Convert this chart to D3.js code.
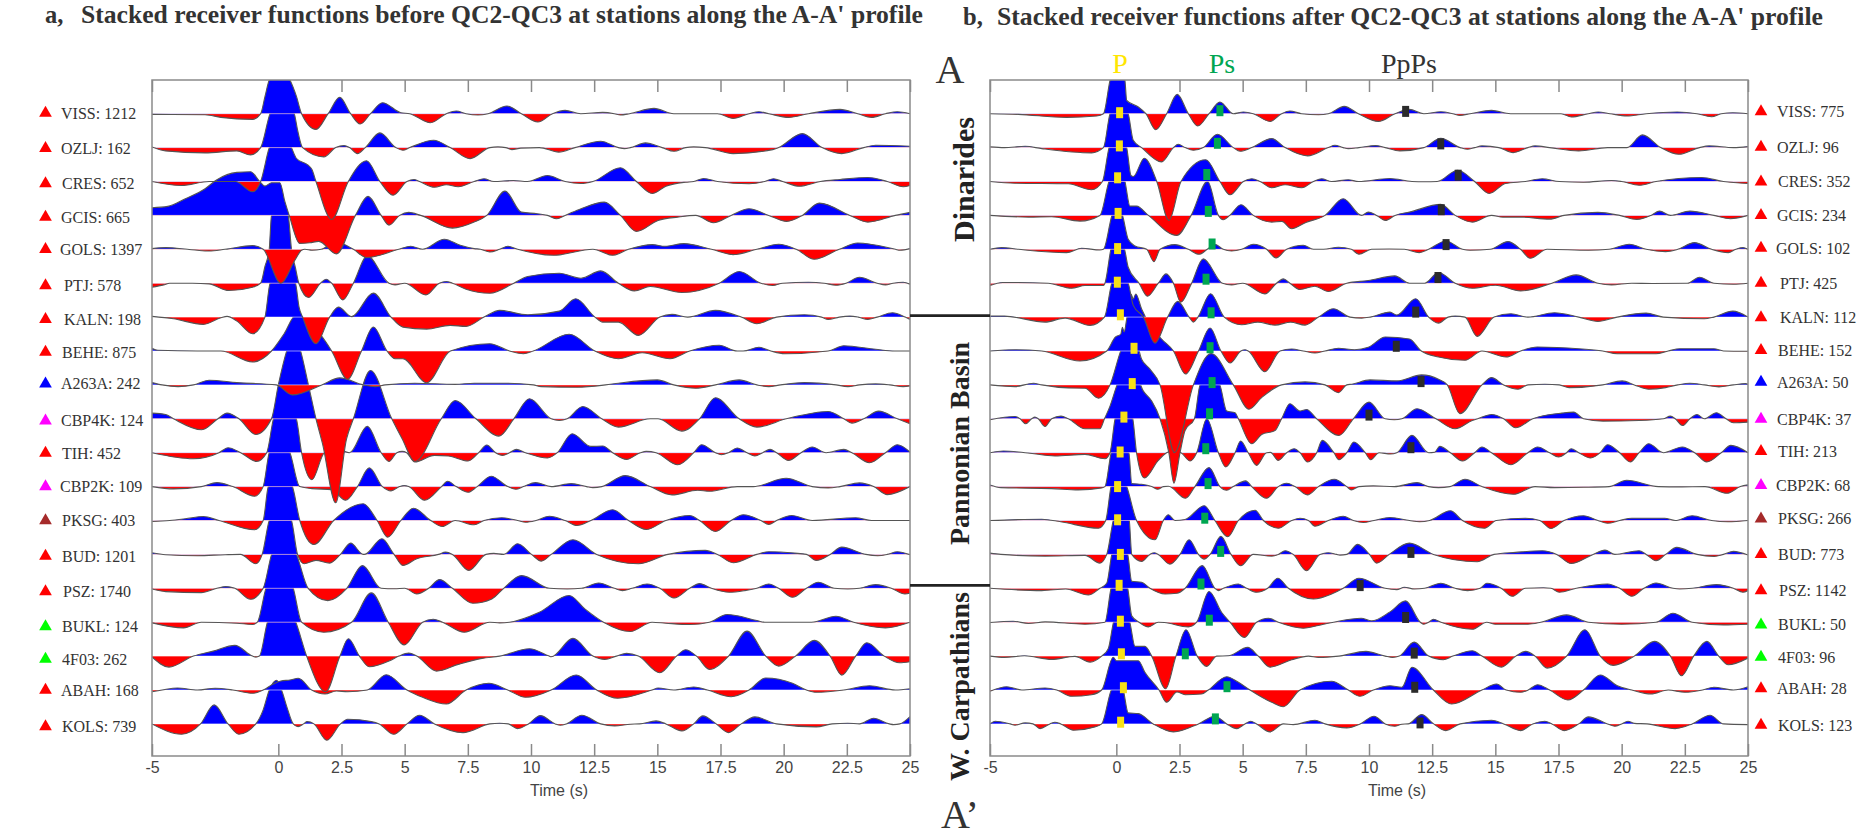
<!DOCTYPE html>
<html>
<head>
<meta charset="utf-8">
<style>
html, body { margin: 0; padding: 0; background: #fff; }
svg { display: block; }
text { fill: #333; }
.serif { font-family: "Liberation Serif", serif; }
.axis text { font-family: "Liberation Sans", sans-serif; font-size: 16px; fill: #444; }
.axis line, .axis path { stroke: #8a8a8a; stroke-width: 1.5px; }
</style>
</head>
<body>
<svg id="viz"></svg>
<script src="https://d3js.org/d3.v7.min.js"></script>
<script>
var width = 1858, height = 832;

var stations = ["VISS", "OZLJ", "CRES", "GCIS", "GOLS", "PTJ", "KALN", "BEHE", "A263A", "CBP4K", "TIH", "CBP2K", "PKSG", "BUD", "PSZ", "BUKL", "4F03", "ABAH", "KOLS"];
var countsBefore = [1212, 162, 652, 665, 1397, 578, 198, 875, 242, 124, 452, 109, 403, 1201, 1740, 124, 262, 168, 739];
var countsAfter = [775, 96, 352, 234, 102, 425, 112, 152, 50, 37, 213, 68, 266, 773, 1142, 50, 96, 28, 123];
var networkColor = ["red", "red", "red", "red", "red", "red", "red", "red", "#0000ff", "#ff00ff", "red", "#ff00ff", "#a52a2a", "red", "red", "#00ff00", "#00ff00", "red", "red"];
var timeTicks = [-5, 0, 2.5, 5, 7.5, 10, 12.5, 15, 17.5, 20, 22.5, 25];

// label nudges, px
var labelDx = [0, 0, 1, 0, -1, 3, 3, 1, 0, 0, 1, -1, 1, 1, 2, 1, 1, 0, 1];
var labelDyA = [-.7, .7, 2, 1.7, 0, 2.4, 2.3, 1, -1, 2, .4, 0, 0, 1.7, 3.3, 4.3, 3, 0, 2.7];
var labelDyB = [-2, -.6, .3, 0, -1.3, 0, .6, -.7, -2.7, .3, -1.3, -1.3, -1.7, 0, 2.3, 2.6, 1, -1.3, 1.3];

// receiver functions, flat lists of time (s), amplitude
var rfBefore = [
[-5,-.07,-2.9,-.1,-2.27,-.37,-1.02,-.57,-.7,0,-.53,1.7,-.36,3.37,.05,4.6,.46,3.37,.72,1.7,.92,0,1.49,-1.57,1.97,0,2.43,1.63,2.86,0,3.24,-1.03,3.65,0,4.12,1.1,4.85,.1,5.2,0,6.02,-.9,6.65,0,7.04,.27,7.43,0,7.9,-.13,8.3,0,9.05,.77,9.62,0,10.27,-.83,10.85,0,11.35,.33,11.97,0,12.84,.13,13.3,0,13.54,-.13,13.9,0,14.87,.53,15.65,0,17.38,0,18,-.47,18.63,0,19.02,.2,19.41,0,20.2,-.37,20.98,0,22.23,.43,22.93,0,23.48,-.37,24.03,0,24.5,.2,25,0],
[-5,.07,-4.46,-.33,-2.9,-.53,-1.64,-.33,-1.1,-.73,-.7,0,-.33,3.4,.13,5,.63,3.4,.76,1.77,.96,0,1.8,-.93,2.27,0,2.6,.2,2.82,0,3.13,-.6,3.44,0,4.02,1.47,4.65,0,4.93,-.27,5.2,0,6.15,.73,6.8,0,7.59,-1.1,8.37,0,8.69,.07,9,0,9.24,-.2,9.6,-.05,10.33,0,11.1,-.45,11.74,0,12.76,.63,13.46,0,13.7,-.1,13.93,0,14.53,.47,15.19,0,15.66,-.37,16.12,0,16.44,.07,16.9,0,18,-.6,19.57,-.2,19.8,0,20.74,1.4,21.52,0,22.3,-.6,23.17,0,23.64,.23,25,.13],
[-5,0,-3.83,-.4,-2.74,0,-1.7,0,-1.02,-1.03,-.7,0,-.36,3.37,.1,5.2,.52,3.37,.72,2.3,1.18,1.63,1.33,1.2,1.49,0,2.11,-3.8,2.77,0,3.49,2.07,4.02,0,4.54,-1.37,5.09,0,5.37,.2,5.59,0,6.18,-.57,6.65,-.33,7.12,-.53,7.75,0,8.14,.27,8.53,0,9.3,.1,9.86,0,10.65,.6,11.35,0,11.98,-.2,12.45,0,13.54,1.37,14.17,0,14.8,-1.2,15.34,-.47,16.12,-.07,16.44,0,16.83,.3,17.38,0,18.63,-.23,19.25,0,19.6,.27,19.96,0,20.62,-.47,21.45,0,22.23,.2,23.33,.4,24.1,0,24.73,-.53,25,-.4],
[-5,.77,-4.38,.9,-3.68,1.67,-2.9,2.67,-2.43,3.57,-1.64,4.3,-1.1,4.37,-.73,3.37,-.53,2.93,-.27,3.27,.06,3.27,.26,1.37,.43,0,.85,-2.8,1.25,-2.73,1.6,-2.6,2.3,-3.85,3.05,0,3.55,1.9,4.07,0,4.38,-.97,4.8,0,5.16,.3,5.63,0,6.89,-1.27,7.75,-.67,8.25,0,8.97,2.43,9.62,.33,10.25,.17,10.65,0,11.02,-.33,11.35,0,11.98,.67,12.9,1.33,13.54,0,14.17,-1.6,15.03,-.5,15.81,-.17,16.52,0,17.22,-.73,17.92,0,18.63,.67,19.41,0,20.12,-.6,20.74,0,21.41,1.23,22.62,0,23.33,-.67,24.42,0,25,.3],
[-5,.07,-4.46,.17,-3.6,0,-3.2,-.1,-2.74,-.17,-2.11,0,-1.02,.37,-.6,0,.1,-3.4,.66,-1.07,.92,-.1,1.05,0,1.33,-.1,1.7,0,2.27,.73,2.97,0,3.49,-.83,4.77,0,5.24,.3,5.71,0,6.57,1,7.2,.4,7.75,.07,8,0,8.37,-.27,8.76,0,9.08,.3,9.47,0,10.9,-.6,12.45,0,13.23,-.6,13.86,0,14.8,.47,15.3,.3,16.05,.57,17.14,0,18,-.53,18.94,0,19.8,.5,20.5,0,21.21,-1,22.2,0,22.93,.63,24.42,0,24.6,-.1,25,.07],
[-5,-.4,-4.54,-.17,-4.3,0,-3.4,0,-2.74,-.07,-1.96,-.73,-1.02,-.4,-.7,0,-.53,1.67,-.36,3.4,-.27,6.8,.06,8.2,.39,6.8,.52,3.4,.68,1.5,.81,0,1.2,-1.43,1.67,0,1.89,.4,2.11,0,2.55,-1.67,2.97,0,3.52,2.73,4.38,0,4.62,-.17,5,0,5.84,-1.17,6.37,0,6.65,.17,6.89,0,7.43,-.6,8.37,-1,9.32,0,9.87,.67,11.12,1,11.98,.5,12.76,1.23,13.46,0,14.09,-.77,14.72,-.33,15.97,-.93,17.45,0,18.24,1.17,19.1,0,19.57,-.23,19.96,0,20.98,.1,21.6,0,22.07,-.2,22.47,0,23,.6,23.7,0,24.03,-.17,24.33,0,24.73,.1,25,-.1],
[-5,.07,-4.15,-.17,-2.97,-.73,-2.27,-.07,-2.03,.07,-1.64,-.4,-1.02,-1.67,-.53,0,-.33,3.37,.15,5,.68,3.37,.82,1,.96,0,1.49,-2.67,2.03,0,2.38,1,2.9,.05,3.76,2.4,4.46,0,4.93,-1,5.87,-1.2,6.8,-.83,7.43,-.93,8.14,0,8.76,.67,9.87,.23,11.12,.6,11.77,1.83,12.53,0,12.84,-.5,13.46,-.5,14.25,-1.83,15.1,0,15.58,.27,16.2,0,17.3,.67,18.32,0,18.94,-.67,19.72,0,20.82,.23,21.5,0,21.76,-.23,22.2,0,22.62,.1,22.95,0,23.33,-.23,23.7,0,24.31,.43,24.81,0,25,-.23],
[-5,.27,-4.77,.07,-3.2,0,-2.27,0,-1.02,-1.1,-.27,0,.23,1.73,.7,3.6,1.64,1.73,2.11,0,2.74,-2.83,3.29,0,3.76,2.4,4.3,0,4.62,-.77,4.93,-.77,5.87,-3.17,6.81,0,8.37,.73,9.15,0,9.7,-.27,10.09,0,11.51,1.67,12.53,0,13.46,-.77,14.4,-.17,15.5,-.77,16.28,0,17.45,.57,18.16,0,18.4,0,19.02,.37,19.49,0,20.04,-.27,21.76,0,22.38,.53,23.64,.17,24.4,0,25,0],
[-5,.23,-4.6,0,-3.97,-.17,-3.36,0,-2.74,.47,-1.64,.23,-.08,0,.55,-1,1.72,0,2.43,.7,3.36,0,3.83,-.17,4.23,0,5.4,.17,7,.05,7.75,.17,9,.17,10.09,0,10.4,-.17,11.82,-.23,12.95,0,13.46,.17,15,.5,15.65,0,16.52,-.33,17.3,0,18.24,.5,18.94,0,19.41,-.17,19.88,0,20.82,.23,22.07,0,22.54,-.17,23,0,23.64,.1,24.2,0,24.73,-.17,25,-.1],
[-5,.57,-4.46,.43,-4.15,0,-3.03,-1.1,-2.39,0,-2.03,.57,-1.56,0,-.89,-1.57,-.27,0,0,3.4,.33,6.8,.6,8.6,.88,6.8,1.19,3.4,1.49,0,1.75,-2.5,2.27,-8.4,2.7,-2,2.97,0,3.65,4.83,4.49,0,4.9,-2,5.4,-4.27,6.45,0,7,1.83,7.82,0,8.73,-1.73,9.32,0,9.94,2,10.8,0,11.12,-.17,11.43,0,12.05,1.23,12.8,0,13.46,-.83,14.72,0,15.03,0,15.97,-1.23,16.67,0,17.3,2.1,18.24,0,18.94,-.83,20.1,0,20.66,.33,21.76,.73,22.38,0,22.7,-.43,23.17,0,23.76,.77,24.5,0,25,-.5],
[-5,0,-3.36,-.6,-2.35,0,-1.99,.5,-1.49,0,-.86,-.87,-.46,0,-.2,3.33,.25,5.6,.72,3.33,.92,0,1.33,-2.7,1.83,0,2.4,.3,2.82,0,3.52,2.63,4.07,0,4.38,-.87,4.69,0,4.9,.13,5.08,0,5.4,-.93,6.18,-.27,6.73,-.33,7.51,-.83,7.93,0,8.25,.77,8.6,0,8.87,-.27,9.15,0,9.42,.33,9.78,0,10.65,-.53,11.04,0,11.63,1.9,12.37,.63,12.84,.67,13.23,0,13.78,-.67,14.33,0,14.56,.13,14.95,0,15.81,-1.2,16.44,0,16.75,.8,17.3,0,17.53,-.2,17.82,0,18.16,.47,18.55,0,18.86,-.33,19.17,0,19.46,.33,19.72,0,20.19,-.77,20.69,0,21.13,.57,21.68,0,22.38,.33,22.7,0,23.4,-1,24.03,0,24.5,.8,25,.07],
[-5,0,-4.15,-.23,-3.05,0,-2.43,.4,-1.8,0,-.94,-.97,-.6,0,-.36,3.4,.05,5,.46,3.4,.85,0,1.33,-.2,2.11,-.3,2.66,-1.37,3.13,0,3.6,1.87,4.12,0,4.46,-.43,4.8,0,4.98,.1,5.16,0,5.79,-1.37,6.46,0,6.7,.53,7.04,0,7.51,-.57,7.87,0,8.42,1.03,9.08,0,9.4,-.27,9.7,0,10.18,.4,10.8,0,11.59,.3,12.2,0,12.45,-.1,12.8,0,13.73,1.1,14.72,0,15.58,-.83,16.6,-.37,17.06,-.47,18.16,0,18.8,0,20.1,.83,21.13,0,21.76,-.13,22.23,0,23,.37,23.56,0,24.1,-.8,25,0],
[-5,-.1,-4.3,0,-3.68,.17,-2.97,.4,-2.35,0,-.94,-.93,-.6,0,-.4,3.37,.08,5,.56,3.37,.85,0,1.41,-2.4,2.19,0,3.36,1.67,3.91,0,4.33,-1.67,4.85,0,5.35,1.23,6.03,0,6.49,-.6,7,0,7.75,-.43,8.14,0,8.84,.27,9.47,0,9.79,-.17,10.2,0,10.73,.43,11.35,0,11.82,-.5,12.37,0,13.23,1.07,13.86,0,14.56,-.9,15.34,0,16.28,.5,16.67,0,17.3,-1.1,17.92,0,18.4,.57,19.1,0,19.41,-.4,19.72,0,20.32,.5,21.13,0,22.85,.27,23.48,0,25,0],
[-5,.17,-4.46,-.03,-3.2,-.13,-2.1,-.03,-1.5,0,-.89,-.93,-.64,0,-.36,3.4,.07,5,.52,3.4,.76,0,1.02,-.93,1.49,-.6,2.03,-.87,2.46,0,2.86,1.13,3.36,0,3.45,.03,4.1,1.57,4.58,0,4.93,-1.1,5.48,-.43,6.34,0,6.62,.23,6.89,0,7.54,-1.6,8.22,0,8.53,.1,8.92,0,9.47,1.07,10.02,0,10.41,-.67,10.8,0,11.66,1.47,12.6,0,14.25,-.93,15.42,0,16.9,.4,17.38,0,18,-.83,18.94,0,19.41,.27,20.43,.13,20.9,0,21.29,-.6,21.84,0,22.3,.73,23.25,0,23.72,-.13,24.1,0,24.5,.27,25,-.03],
[-5,-.07,-4.46,-.33,-3.05,-.43,-2.43,0,-2.08,.17,-1.72,0,-1.1,-1.1,-.6,0,-.27,3.37,.2,5.5,.72,3.37,1.18,0,1.96,-1.23,2.71,0,3.33,2.27,4.07,0,4.6,-.05,5,0,5.48,-.57,5.95,0,6.38,.87,6.89,0,7.7,-1.5,8.45,-1.07,8.92,0,9.63,1.27,10.73,0,11.43,-.07,12,0,12.68,.53,13.3,0,13.62,-.23,14,0,14.59,.43,15.1,0,15.66,-.97,16.28,0,16.67,.47,17.14,0,17.85,-.4,18.47,-.23,18.94,0,19.41,.43,19.8,0,20.35,-.9,20.9,0,21.37,.6,22,0,22.54,-.07,23,0,23.64,.37,24.26,0,24.8,-.57,25,-.5],
[-5,-.07,-3.75,-.57,-3.05,0,-1.64,-.1,-1.02,-.23,-.83,0,-.49,3.4,.05,5.5,.59,3.4,.92,0,1.8,-1,2.9,0,3.68,2.93,4.35,0,4.98,-2.27,5.71,0,6.13,.3,6.5,0,7.36,-1,8.37,0,8.76,-.07,9.15,0,10.33,1,11.51,2.67,12.13,1.33,12.87,0,13.93,-.93,14.79,0,15.34,-.1,16.28,-.23,17.06,0,17.76,.77,18.94,.17,19.25,0,21.1,0,22.07,.6,22.77,0,24.03,-.57,25,0],
[-5,-.1,-4.33,-1.1,-3.36,0,-2.58,.5,-1.72,1.07,-1.02,0,-.89,-.1,-.75,0,-.44,3.33,.12,6,.7,3.33,1.12,0,1.87,-3.57,2.44,0,2.77,1.73,3.21,0,3.6,-1.07,4.38,-.5,4.77,0,5.16,.3,5.48,0,6.26,-1.5,7.12,-.83,8.06,-.23,8.76,0,9.94,.73,10.72,0,10.8,-.07,11.66,1.77,12.45,0,12.92,-.33,13.38,0,13.78,.27,14.25,0,15.1,-1.67,15.76,0,16.12,.63,16.55,0,17.06,-1.33,17.82,0,18.55,2.5,19.29,0,19.8,-1,20.47,0,21.21,1.57,21.84,0,22.3,-1.9,22.85,0,23.29,1.33,23.98,0,24.58,-.67,25,-.57],
[-5,-.17,-4.6,0,-3.99,.2,-3.2,0,-2.5,.17,-1.8,0,-1.02,-.33,-.6,0,-.2,.6,.1,.9,.46,1,.79,1.17,1.32,0,1.85,-.4,2.3,-.1,2.74,-.17,3.52,0,4.27,1.53,5.09,0,5.71,-.73,6.65,-1.4,7.43,0,8.33,.67,9.08,0,9.78,-.73,10.8,0,11.79,1.5,12.6,0,13.43,-.83,14.79,0,15.03,.2,15.65,0,16.44,.3,16.98,0,17.92,-.67,18.63,0,19.29,1.2,20.35,.67,20.9,0,21.29,-.23,22.38,0,23.4,.43,24.42,0,25,.13],
[-5,0,-3.83,-1.03,-3.08,0,-2.54,1.9,-1.99,0,-1.56,-1.03,-.89,0,-.6,1.4,-.36,3.37,-.07,4.37,.13,3.37,.35,1.6,.59,0,.78,-.27,1,0,1.14,.23,1.41,0,1.92,-1.63,2.46,0,2.74,.47,3.68,.23,3.99,0,4.57,-1.03,5.09,0,5.59,.87,6.18,0,7.31,-.87,8.37,0,8.76,.07,9.1,0,9.47,-.47,9.9,0,10.37,.83,10.96,0,11.16,-.13,11.4,0,12.01,.87,12.76,0,13.31,-.2,13.93,-.03,14.3,0,14.95,.3,15.34,0,15.97,-.7,16.44,0,16.8,.8,17.33,0,17.82,-.87,18.32,0,18.86,.7,19.72,0,21.29,-.3,21.92,0,22.54,.07,23,0,23.56,.57,24.18,0,24.35,-.07,24.6,0,25,.73]
];

var rfAfter = [
[-5,0,-3.88,-.07,-1.97,-.37,-.78,-.23,-.51,0,-.25,3.33,.05,5.5,.34,3.33,.41,1.33,.87,.67,1.17,0,1.56,-1.6,1.99,0,2.41,1.93,2.85,0,3.22,-1.23,3.67,0,4.1,1.17,4.63,0,5.03,.17,5.42,0,6.08,-.77,6.54,0,6.87,.27,7.33,0,8,-.1,8.39,0,9.02,.73,9.58,0,10.37,-.77,11.03,0,11.6,.43,12.17,0,12.84,.2,13.32,0,13.6,-.17,14,0,14.85,.33,15.6,0,17.6,0,18.01,-.33,18.68,0,19.07,.17,19.54,0,20.2,-.23,20.97,0,22.2,.17,22.98,0,23.56,-.3,23.94,0,24.4,.1,25,0],
[-5,.07,-4.43,0,-3.61,.13,-2.95,-.1,-.98,-.53,-.51,0,-.25,3.4,.1,4.8,.47,3.4,.67,.73,1,0,1.79,-1.43,2.26,0,2.45,.33,2.72,0,3.05,-.27,3.44,0,4,1.33,4.63,0,4.9,-.37,5.36,0,6.15,.9,6.68,0,7.57,-.83,8.39,0,8.65,.23,8.98,0,9.18,-.1,9.6,0,10.26,.2,10.64,0,11.22,-.33,12.17,0,12.84,.93,13.61,0,13.9,-.17,14.18,0,14.47,.17,15.14,0,15.71,-.5,16.29,0,16.57,.17,17.15,0,18.3,-.33,19.44,0,20.21,0,20.82,1.27,21.55,0,22.26,-.67,23.08,0,23.46,.17,24.42,0,25,.1],
[-5,0,-4.01,-.17,-1.9,-.23,-.98,-.83,-.55,0,-.29,3.37,.05,5,.41,3.37,.58,.6,.67,.5,1.11,2.33,1.6,0,2.08,-3.9,2.56,0,3.54,2.17,4.1,0,4.5,-1.33,5.03,0,5.36,.27,5.69,0,6.15,-.63,6.68,-.33,7.34,-.63,7.8,0,8.13,.27,8.52,0,9.18,.17,9.58,0,10.83,.3,11.7,0,12.2,-.03,12.7,0,13.51,1.13,14.18,0,14.76,-1.2,15.4,-.2,16.19,0,16.86,.27,17.53,0,18.49,-.07,19.6,.1,20,0,20.69,-.37,21.36,0,23.17,.4,24.03,0,25,-.2],
[-5,0,-3.48,-.17,-2.56,-.13,-1.44,-.57,-.65,0,-.29,3.4,.05,5,.34,3.4,.54,.93,.8,.93,1.27,0,2.39,-2,2.96,0,3.61,3.4,4.04,0,4.23,-.43,4.49,0,4.93,1.07,5.42,0,6.15,-.67,6.55,-.6,6.94,-1.33,7.5,-.7,8.26,0,8.98,1.67,9.71,0,9.97,.33,10.3,0,10.65,-.5,11.03,0,11.6,.33,12.84,1.1,13.41,0,14.09,-.67,14.85,0,15.3,-.17,16,-.17,17.15,-.37,17.72,0,19.06,.3,19.92,0,20.6,-.4,21.16,0,21.5,.43,21.93,0,22.7,.43,23.65,0,24.3,-.33,25,0],
[-5,0,-4.54,.17,-3.88,0,-1.97,-.33,-1.37,.1,-.65,-.07,-.51,0,-.18,3.33,0,4.5,.25,3.33,.47,1,.74,.33,1.2,0,1.49,-1.23,1.73,0,2.32,.47,2.85,0,3.27,-.5,3.6,0,3.9,.5,4.23,0,4.56,-.17,4.96,0,5.42,.5,5.95,0,6.32,-.87,6.74,0,7.4,.4,7.8,0,8.2,0,8.79,.2,9.3,0,9.6,-.5,10.1,0,10.8,.03,11.4,0,11.99,-.33,12.36,0,13.04,.83,13.7,0,14,-.1,14.8,0,15.5,.77,16,0,16.38,-.9,17.05,0,18.68,-.1,19.5,0,20.3,.5,20.97,0,21.74,-.23,22.22,0,22.88,.67,23.56,0,24.22,-.33,24.52,0,24.8,.17,25,0],
[-5,-.23,-4.5,.07,-3.9,.07,-2.7,0,-1.77,-.5,-1.24,-.23,-.51,-.23,-.45,0,-.21,3.43,0,4.6,.32,3.43,.47,1.6,.9,0,1.23,-1.3,1.66,0,1.97,.93,2.26,0,2.55,-1.9,2.98,0,3.44,2.43,4.2,0,4.56,-.17,5,0,5.88,-1.07,6.34,0,6.61,.43,6.87,0,7.27,-.63,7.86,-.3,8.39,-.83,9.12,0,9.97,.27,11.02,.73,11.6,0,12.2,0,12.75,1.07,13.41,0,14.09,-.5,15,-.2,16,-.77,17.24,0,18.2,.83,19.06,0,19.6,-.17,20.4,0,21.2,-.03,22.6,0,23.08,.6,23.65,0,24.42,-.1,25,0],
[-5,.1,-4.43,.1,-2.82,-.5,-2.03,-.1,-1.04,-.83,-.47,0,-.18,3.4,.1,4.6,.47,3.4,.67,1.17,1.07,0,1.53,-2.6,2.03,0,2.43,1.57,2.88,0,3.05,-.5,3.23,0,3.73,2.33,4.27,0,4.96,-.77,5.6,-.5,6.28,-.8,6.9,-.5,7.47,-.8,8,0,8.59,.83,9.25,0,9.71,-.1,10.05,0,10.83,.5,11.1,.2,11.85,1.83,12.36,0,12.75,-.6,13.13,0,13.41,.1,13.8,0,14.28,-1.93,14.95,0,15.62,.33,16.29,0,17.34,.43,18.3,0,19.06,-.43,19.82,0,20.97,.4,21.65,0,23.27,-.17,23.65,0,24.4,.6,25,0],
[-5,0,-4.01,.13,-2.95,0,-1.44,-1,-.38,0,-.05,1.37,.18,1.7,.24,2.37,.31,1.9,.41,3.2,.58,5.7,.67,5.2,.77,5.7,1,4.2,1.33,2.6,1.79,1.2,2.26,0,2.74,-2.3,3.25,0,3.71,2.3,4.14,0,4.5,-1.2,4.93,0,5.09,.13,5.22,0,5.88,-2.07,6.48,0,6.94,.2,7.4,0,7.86,-.2,8.26,0,8.79,.27,9.43,.13,9.97,.37,10.65,1.4,11.6,1.2,12.07,0,12.75,-.6,13.8,-.93,14.47,0,15.43,-.6,16,0,16.66,.4,18.3,.23,19.25,0,19.82,-.27,21.36,-.27,21.84,0,22.3,.23,23.65,.23,24.03,0,25,-.03],
[-5,0,-4.01,-.17,-3.28,.17,-2.95,0,-1.9,-.3,-1.24,-.33,-.71,-1.33,-.25,0,.15,3.23,.6,6,1,2.57,1.33,1.57,1.73,0,2.3,-6.77,3.05,0,3.75,3.13,4.63,0,5.25,-2.43,5.75,-1.27,6.54,0,7.47,.3,8.26,0,8.79,-.77,9.12,0,9.32,.07,10.04,.5,11.1,.4,12.08,1,12.75,.57,13.1,0,13.6,-2.87,14.47,0,14.85,.73,15.33,0,15.9,-.43,16.29,0,16.96,.07,17.53,0,17.92,-.27,19.25,0,20.02,.4,20.5,0,21.07,-.43,21.74,-.27,22.22,0,22.7,.17,23.27,0,23.85,-.2,24.42,0,24.9,.13,25,.07],
[-5,-.1,-4.01,.23,-3.81,0,-3.59,-.5,-3.35,0,-3.22,.17,-3.09,0,-2.82,-.77,-2.56,0,-2.19,.27,-1.9,0,-1.24,-1,-.65,-1,-.47,0,-.25,1.27,.01,3.27,.5,6,1.07,2.77,1.4,1.77,1.73,0,2.08,-3.4,2.28,-6.43,2.52,-3.4,2.72,-1.17,3.09,0,3.31,3.37,3.7,4.5,4.1,3.37,4.37,.77,4.7,.6,4.83,0,5.36,-2.5,5.75,-1.57,6.28,-1.17,6.54,0,6.87,1.5,7.27,.77,7.53,.93,7.93,0,8.81,-1.67,9.38,0,10,1.67,10.64,0,11,-.1,11.3,0,11.9,1,12.65,0,13.41,-1,14.09,-.17,14.3,0,14.85,.43,15.33,0,15.8,-.9,16.48,0,17.63,.57,18.1,.67,18.49,0,19.26,-.23,20.69,-.17,21.65,0,21.93,.27,22.12,0,22.41,-.67,22.7,0,22.98,.43,23.27,0,23.75,.6,24.13,0,24.42,-.4,25,-.33],
[-5,0,-4.47,.17,-3.5,-.03,-2.43,-.33,-1.24,-.17,-.45,-.6,-.25,0,-.05,3.4,.3,5.5,.65,3.4,.8,0,1.11,-2.53,1.66,-.77,1.99,0,2.2,.2,2.56,0,2.92,-.83,3.18,0,3.58,3.4,4.04,0,4.33,-1.43,4.7,0,4.92,1.17,5.22,0,5.55,-1.27,5.95,0,6.1,.03,6.41,-.77,6.74,0,7.04,.4,7.27,0,7.57,-.93,7.93,0,8.15,1.23,8.61,0,8.81,-.7,9.12,0,9.4,1.07,9.85,0,10.07,-.7,10.4,0,10.85,-.13,11.1,0,11.7,1.73,12.36,0,12.6,.05,12.8,.63,13.22,0,13.7,-.83,14.18,0,14.47,.57,14.85,0,15.62,-1.2,16.29,0,16.67,.57,17.15,0,17.5,-.43,17.82,0,18,.4,18.3,0,18.77,-.53,19.15,0,19.44,.8,19.92,0,20.34,-.93,20.69,0,21.07,.9,21.65,0,22.4,.57,22.89,0,23.37,-.93,23.94,0,24.32,.73,25,0],
[-5,.17,-4.57,-.1,-2.56,-.2,-1.5,-.33,-.58,-.13,-.45,0,-.21,3.33,.1,5,.5,3.33,.61,.3,1,.23,1.4,0,1.64,-.27,1.86,0,2.06,.03,2.74,-1.17,3.11,0,3.67,1.9,4.1,0,4.37,-.37,4.63,0,5.12,.57,5.36,0,5.95,-1.17,6.41,0,6.74,.33,7.07,0,7.56,-.83,8,0,8.63,.73,9.12,0,9.3,-.33,9.6,0,10.17,.07,11,0,11.9,.4,12.36,0,12.75,-.1,13.2,0,13.8,.73,14.47,0,15.71,-.77,16.57,0,17.34,-.1,18.5,-.07,19.5,0,20.2,.63,21.45,0,22.3,-.03,23.3,0,24.17,-.67,24.7,0,25,.17],
[-5,0,-2.95,.13,-2.2,-.13,-.71,-.77,-.42,0,-.21,3.4,.08,5,.41,3.4,.8,0,1.53,-1.93,1.86,0,2.06,.57,2.32,0,2.72,.1,3.48,1.47,3.9,0,4.41,-1.63,4.83,0,5.49,1.03,5.82,0,6.41,-.77,6.94,0,7.27,.23,7.6,0,7.86,-.57,8.39,0,8.98,.43,9.38,0,9.78,-.2,10.2,0,10.83,.3,11.6,0,12,-.13,12.4,0,13.22,.97,13.7,0,14.57,-.77,15.04,0,16.19,.23,16.76,0,17.2,-.8,17.72,0,18.49,.47,19.06,0,19.44,-.27,19.92,0,20.4,.23,21.7,.23,22.12,0,22.79,.47,23.56,0,24.2,-.13,25,0],
[-5,.13,-4.57,0,-2.82,-.17,-1.24,-.1,-.65,-.87,-.38,0,-.12,3.4,.15,5,.51,3.4,.61,0,1,-.7,1.33,0,1.5,.17,1.66,0,2.12,-.97,2.52,0,2.88,1.47,3.25,0,3.47,-.47,3.71,0,4.14,1.8,4.54,0,4.92,-1.13,5.42,0,6.15,-.17,6.41,0,6.68,.37,7,0,7.53,-1.63,8.06,0,8.39,.17,8.72,0,8.85,-.07,9.12,0,9.55,1,10.02,0,10.3,-.87,10.8,0,11.6,1.13,12.55,0,14.28,-.73,14.95,0,15.8,.2,16.86,.37,17.43,0,18,-.9,18.87,0,19.34,.43,19.73,0,20.69,.37,20.97,0,21.36,-.63,21.74,0,22.18,.7,22.98,0,23.66,-.2,24.03,0,24.42,.3,25,-.07],
[-5,0,-2.95,-.23,-2,-.07,-1.11,-.67,-.65,0,-.38,.5,-.18,3.4,.1,5,.45,3.4,.61,.7,1,.6,1.33,0,1.93,-.57,2.4,-.5,2.72,0,3.4,2.27,3.9,0,4.04,-.23,4.24,0,4.83,.43,5.16,0,5.55,-.4,5.99,0,6.39,1,6.81,0,7.8,-1.07,8.52,-.57,8.98,0,9.6,1,10.64,0,11.1,-.13,11.4,.1,11.8,-.07,12.2,0,12.84,.5,13.41,0,13.9,-.23,14.4,0,14.66,.5,15.23,0,15.67,-.8,16.19,0,16.9,.05,17.2,0,17.53,-.4,18.2,0,19.44,.43,19.92,0,20.4,-.8,20.88,0,21.36,.53,22.03,0,22.3,-.07,22.8,0,23.75,.37,24.42,0,24.8,-.4,25,-.23],
[-5,-.03,-4.08,.1,-3.48,-.13,-2.82,.03,-1.24,-.2,-.45,0,-.21,3.37,.12,5,.45,3.37,.61,.63,.9,0,1.27,-.47,1.66,0,1.9,-.03,2.85,-.47,3.18,0,3.67,3.07,4.17,.97,4.5,0,5.07,-1.53,5.55,0,6.02,.4,6.41,0,7.4,-.6,8.2,-.2,8.6,0,9.69,.4,10.1,.13,10.83,1.03,11.45,2.13,12.03,0,12.17,-.2,12.36,0,12.55,.3,12.85,0,14.09,-.7,14.66,0,15,-.2,16.29,-.2,16.8,0,17.82,.73,18.68,0,20,-.2,21.36,0,22.03,.9,22.79,0,24.03,-.27,25,-.2],
[-5,0,-4.43,-.13,-3.64,.03,-2.56,-.33,-1.64,-.03,-1.04,-.6,-.58,0,-.32,.73,-.12,3.3,.2,5,.54,3.3,.74,.97,1.13,.97,1.4,0,1.95,-3.27,2.36,0,2.76,2.63,3.2,0,3.58,-1.03,3.97,0,4.43,.03,5.2,.87,5.62,0,6.08,-1.1,6.94,-.37,7.6,0,8,-.13,8.8,0,9.88,.47,10.64,0,10.93,-.13,11.2,0,11.79,1.4,12.36,0,12.94,-.37,13.32,0,14.09,.53,14.47,0,15.24,-1.1,15.81,0,16.2,.47,16.57,0,17.05,-1.2,17.82,0,18.55,2.63,19.15,0,19.67,-.93,20.5,0,21.3,1.47,21.93,0,22.37,-1.97,22.85,0,23.37,1.47,23.84,0,24.22,-.87,25,-.2],
[-5,-.13,-4.34,.33,-3.74,0,-2.82,.2,-2.36,0,-1.77,-.63,-.98,-.47,-.58,0,-.12,3.27,0,2.93,.87,2.93,1.13,1.77,1.69,0,1.99,-1.23,2.4,-.2,2.72,-.47,3.37,-.4,3.64,0,4.37,1.33,4.83,.77,5.29,0,6.15,-1.23,6.61,-1.67,7.27,0,8.52,.87,9.18,0,9.64,-.63,10.17,0,10.83,.43,11.3,.27,11.7,2.27,12.55,0,13.27,-1.4,14.47,0,15.05,.6,15.43,0,16,-.23,16.3,0,16.67,.53,17.15,0,17.87,-1,18.49,0,19.15,1.5,19.83,.43,20.4,0,21.16,-.4,21.84,0,22.5,-.23,23.2,0,23.65,.27,24.42,0,25,.33],
[-5,0,-4.8,.27,-4.2,0,-4.01,-.13,-3.61,.1,-3.3,0,-3.02,-.47,-2.63,0,-2.43,.17,-2.2,0,-1.7,-.63,-.85,-.3,-.58,0,-.21,3.33,.05,4.5,.28,3.33,.47,1.1,.87,1.03,1.46,0,2.26,-.8,3.25,0,3.9,.77,4.37,0,4.76,-.47,5.09,0,5.32,.27,5.55,0,6.08,-.8,6.61,0,7,-.07,7.86,.37,8.26,0,9.12,-.4,9.65,0,10.2,.77,10.64,0,11.02,-.23,11.3,-.03,11.55,0,12.08,.93,12.56,0,13.04,-.67,13.61,0,14.85,.37,15.33,0,16,-.67,16.48,0,16.96,.27,17.24,0,17.72,-.67,18.3,0,18.68,.7,19.44,0,19.73,-.23,20,0,20.25,.27,20.5,.05,21,0,22.12,-.47,22.79,0,23.5,.87,24.03,0,25,-.07]
];

// picks on the after-QC traces: time (s), height above the trace line
var pTimes = [.13, .12, .05, .07, .05, .04, .16, .7, .63, .3, .15, .05, .05, .16, .11, .16, .2, .28, .17];
var pOffset = [.1, .17, .37, .2, .07, .1, .23, .27, .13, .17, .07, 0, .07, 0, .3, .1, .23, .23, .17];
var psTimes = [4.1, 4, 3.58, 3.64, 3.79, 3.55, 3.75, 3.71, 3.79, 3.69, 3.54, 3.63, 3.5, 4.13, 3.35, 3.68, 2.73, 4.38, 3.92];
var psOffset = [.3, .43, .7, .4, .53, .4, .43, .33, .23, .5, .4, .3, .23, .3, .43, .2, .23, .33, .5];
var ppsTimes = [11.45, 12.84, 13.53, 12.86, 13.05, 12.73, 11.85, 11.08, 12.06, 10, 11.66, null, null, 11.66, 9.65, 11.45, 11.79, 11.81, 12.02];
var ppsOffset = [.23, .37, .63, .57, .47, .57, .5, .47, .33, .37, .5, null, null, .2, .27, .47, .3, .27, .1];

var svg = d3.select("#viz").attr("width", width).attr("height", height);
var defs = svg.append("defs");

var rowY = d3.scalePoint().domain(stations).range([113.7, 723.9]);
var ampH = d3.scaleLinear().domain([0, 1]).range([0, 10]); // one amplitude unit is 10 px
var panelTop = 80, panelBottom = 756;

function pairs(flat) {
    var out = [];
    for (var i = 0; i < flat.length; i += 2) out.push({t: flat[i], a: flat[i + 1]});
    return out;
}

function drawPanel(id, x0, x1, rf) {
    var x = d3.scaleLinear().domain([-5, 25]).range([x0, x1]);
    var g = svg.append("g");

    defs.append("clipPath").attr("id", id + "-clip").append("rect")
        .attr("x", x0).attr("y", panelTop).attr("width", x1 - x0).attr("height", panelBottom - panelTop);

    g.append("g").attr("class", "axis")
        .attr("transform", "translate(0," + panelBottom + ")")
        .call(d3.axisBottom(x).tickValues(timeTicks).tickSize(-12).tickPadding(6).tickFormat(String))
        .select(".domain").remove();
    g.append("g").attr("class", "axis")
        .attr("transform", "translate(0," + panelTop + ")")
        .call(d3.axisTop(x).tickValues(timeTicks).tickSize(-12).tickFormat(""))
        .select(".domain").remove();

    var traces = g.append("g").attr("clip-path", "url(#" + id + "-clip)");

    // upper traces paint over lower ones, so go from the bottom row up
    d3.range(stations.length - 1, -1, -1).forEach(function(i) {
        var base = rowY(stations[i]);
        var data = pairs(rf[i]);
        var row = traces.append("g");
        var area = d3.area().curve(d3.curveMonotoneX)
            .x(function(d) { return x(d.t); })
            .y0(base)
            .y1(function(d) { return base - ampH(d.a); });
        var line = d3.line().curve(d3.curveMonotoneX)
            .x(function(d) { return x(d.t); })
            .y(function(d) { return base - ampH(d.a); });

        defs.append("clipPath").attr("id", id + "-up-" + i).append("rect")
            .attr("x", x0).attr("y", 0).attr("width", x1 - x0).attr("height", base);
        defs.append("clipPath").attr("id", id + "-dn-" + i).append("rect")
            .attr("x", x0).attr("y", base).attr("width", x1 - x0).attr("height", 400);

        row.append("path").datum(data).attr("d", area).attr("fill", "#0000ff")
            .attr("clip-path", "url(#" + id + "-up-" + i + ")");
        row.append("path").datum(data).attr("d", area).attr("fill", "#ff0000")
            .attr("clip-path", "url(#" + id + "-dn-" + i + ")");
        row.append("line").attr("x1", x0).attr("x2", x1).attr("y1", base).attr("y2", base)
            .attr("stroke", "#fff").attr("stroke-opacity", .55).attr("stroke-width", 1);
        row.append("path").datum(data).attr("d", line).attr("fill", "none")
            .attr("stroke", "#555").attr("stroke-width", 1.1);
    });

    g.append("rect").attr("x", x0).attr("y", panelTop).attr("width", x1 - x0).attr("height", panelBottom - panelTop)
        .attr("fill", "none").attr("stroke", "#8a8a8a").attr("stroke-width", 1.5);

    g.append("text").attr("x", x0 + 407).attr("y", 796)
        .attr("text-anchor", "middle").style("font-family", "'Liberation Sans', sans-serif")
        .style("font-size", "16px").style("fill", "#444").text("Time (s)");

    return x;
}

function drawLabels(triX, textX, counts, dy) {
    var tri = d3.symbol().type(d3.symbolTriangle).size(70);
    stations.forEach(function(s, i) {
        var y = rowY(s) + dy[i];
        svg.append("path").attr("d", tri).attr("fill", networkColor[i])
            .attr("transform", "translate(" + triX + "," + y + ")");
        svg.append("text").attr("class", "serif").attr("x", textX + labelDx[i]).attr("y", y + 5.5)
            .style("font-size", "16px").text(s + ": " + counts[i]);
    });
}

function drawPicks(x, times, offsets, color) {
    stations.forEach(function(s, i) {
        if (times[i] == null) return;
        svg.append("rect").attr("x", x(times[i]) - 3.5).attr("y", rowY(s) - ampH(offsets[i]) - 5.5)
            .attr("width", 7).attr("height", 11).attr("fill", color);
    });
}

var xA = drawPanel("a", 152, 910, rfBefore);
var xB = drawPanel("b", 990, 1748, rfAfter);

drawLabels(45.5, 61, countsBefore, labelDyA);
drawLabels(1761, 1777, countsAfter, labelDyB);

drawPicks(xB, pTimes, pOffset, "#f7e017");
drawPicks(xB, psTimes, psOffset, "#00a651");
drawPicks(xB, ppsTimes, ppsOffset, "#2b2b2b");

function serifText(txt, x, y, size, color, weight) {
    return svg.append("text").attr("class", "serif").attr("x", x).attr("y", y)
        .style("font-size", size + "px").style("font-weight", weight || "normal")
        .style("fill", color || "#333").text(txt);
}

serifText("a,", 45, 23, 24.5, "#333", "bold");
serifText("Stacked receiver functions before QC2-QC3 at stations along the A-A' profile", 81, 23, 24.5, "#333", "bold")
    .attr("textLength", 842).attr("lengthAdjust", "spacingAndGlyphs");
serifText("b,", 963, 25, 24.5, "#333", "bold");
serifText("Stacked receiver functions after QC2-QC3 at stations along the A-A' profile", 997, 25, 24.5, "#333", "bold")
    .attr("textLength", 826).attr("lengthAdjust", "spacingAndGlyphs");

serifText("A", 950, 83, 40).attr("text-anchor", "middle");
serifText("A\u2019", 960, 828, 40).attr("text-anchor", "middle");

serifText("P", 1120, 73, 28, "#ffe600").attr("text-anchor", "middle");
serifText("Ps", 1222, 73, 28, "#00a651").attr("text-anchor", "middle");
serifText("PpPs", 1409, 73, 28, "#333").attr("text-anchor", "middle");

// geologic units between the two panels
function unitLabel(txt, cx, cy, size, len) {
    svg.append("text").attr("class", "serif")
        .attr("transform", "translate(" + cx + "," + cy + ") rotate(-90)")
        .attr("text-anchor", "middle").attr("dy", ".35em")
        .attr("textLength", len).attr("lengthAdjust", "spacingAndGlyphs")
        .style("font-size", size + "px").style("font-weight", "bold").style("fill", "#222").text(txt);
}
unitLabel("Dinarides", 963, 179.5, 30, 125);
unitLabel("Pannonian Basin", 959, 443.5, 28, 203);
unitLabel("W. Carpathians", 959, 686.5, 28, 189);

[315.7, 585.3].forEach(function(y) {
    svg.append("line").attr("x1", 910).attr("x2", 990).attr("y1", y).attr("y2", y)
        .attr("stroke", "#222").attr("stroke-width", 2.8);
});
</script>
</body>
</html>
